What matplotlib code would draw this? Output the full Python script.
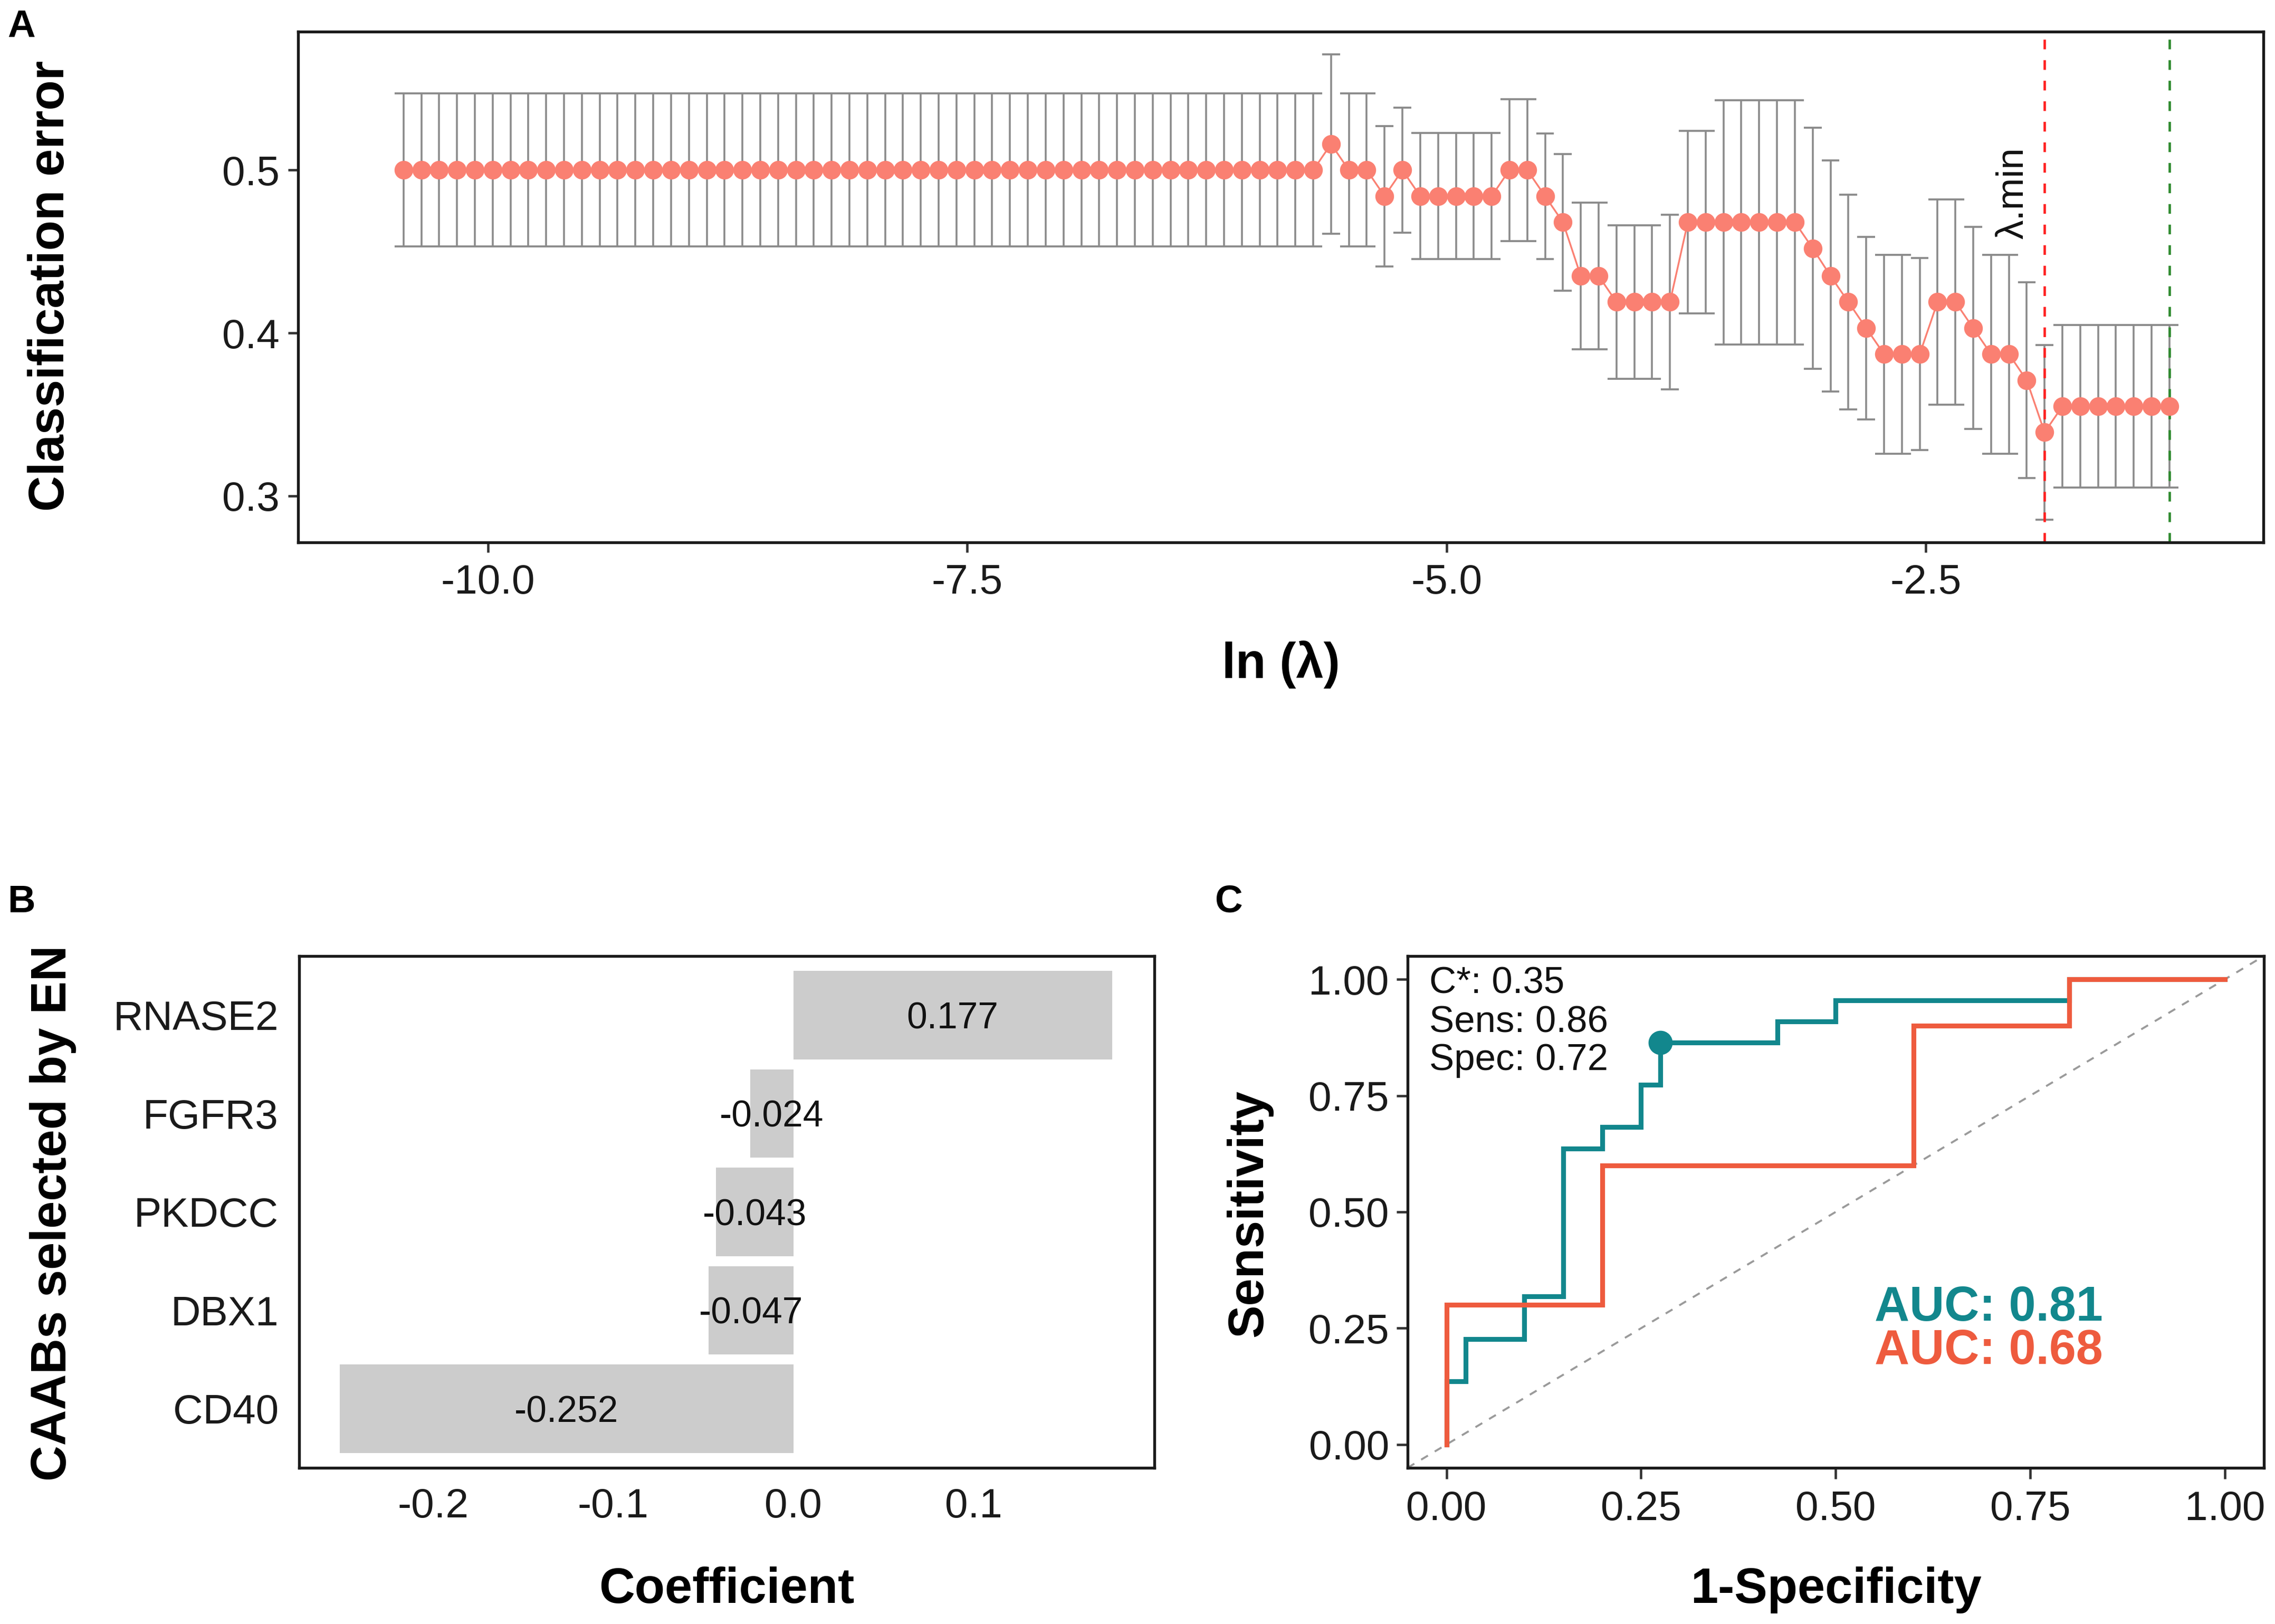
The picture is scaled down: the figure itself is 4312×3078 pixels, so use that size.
import numpy as np
import matplotlib
matplotlib.use("Agg")
import matplotlib.pyplot as plt

plt.rcParams["font.family"] = ["Liberation Sans", "DejaVu Sans"]
plt.rcParams["axes.unicode_minus"] = False

# ---- panel A: cross-validated classification error along the lambda path
n_lambda = 100
loglam_first, loglam_last = -10.44, -1.23
idx_min = 92   # lambda.min
idx_1se = 99   # lambda.1se

cv_error = ([0.5] * 52
            + [0.516, 0.5, 0.5, 0.484, 0.5]
            + [0.484] * 5
            + [0.5, 0.5, 0.484, 0.468, 0.435, 0.435, 0.419, 0.419, 0.419, 0.419]
            + [0.468] * 7
            + [0.452, 0.435, 0.419, 0.403, 0.387, 0.387, 0.387,
               0.419, 0.419, 0.403, 0.387, 0.387, 0.371, 0.339]
            + [0.355] * 7)
cv_sd = ([0.047] * 52
         + [0.055, 0.047, 0.047, 0.043, 0.0385]
         + [0.0387] * 5
         + [0.0435, 0.0435, 0.0386, 0.042, 0.045, 0.045, 0.047, 0.047, 0.047, 0.0535]
         + [0.056, 0.056] + [0.075] * 5
         + [0.074, 0.071, 0.066, 0.056, 0.061, 0.061, 0.059,
            0.063, 0.063, 0.062, 0.061, 0.061, 0.060, 0.0535]
         + [0.050] * 7)

# ---- panel B: coefficients of the selected CAABs
genes = ["CD40", "DBX1", "PKDCC", "FGFR3", "RNASE2"]
coefs = [-0.252, -0.047, -0.043, -0.024, 0.177]

# ---- panel C: ROC curves
fpr_teal = [0, 0, 0.025, 0.025, 0.1, 0.1, 0.15, 0.15, 0.2, 0.2, 0.25, 0.25,
            0.275, 0.275, 0.425, 0.425, 0.5, 0.5, 0.8, 0.8, 1.0]
tpr_teal = [0, 0.136, 0.136, 0.227, 0.227, 0.318, 0.318, 0.636, 0.636, 0.682,
            0.682, 0.773, 0.773, 0.864, 0.864, 0.909, 0.909, 0.955, 0.955, 1.0, 1.0]
fpr_orange = [0, 0, 0.2, 0.2, 0.6, 0.6, 0.8, 0.8, 1.0]
tpr_orange = [0, 0.3, 0.3, 0.6, 0.6, 0.9, 0.9, 1.0, 1.0]
cut_fpr, cut_tpr = 0.275, 0.864
cut_lines = ["C*: 0.35", "Sens: 0.86", "Spec: 0.72"]
auc_teal, auc_orange = 0.81, 0.68

TEAL = "#12878D"
ORANGE = "#EE5B3E"
TICK_FS = 18.8
TITLE_FS = 22.5


def style_axes(ax, ticklen=4.5, pad=4.0):
    for s in ax.spines.values():
        s.set_linewidth(1.3)
        s.set_color("#1a1a1a")
    ax.tick_params(labelsize=TICK_FS, length=ticklen, width=1.1,
                   color="#333333", labelcolor="#1a1a1a", pad=pad)


fig = plt.figure(figsize=(4312 / 300, 3078 / 300), dpi=300)

# ---------------- A
axA = fig.add_axes([0.1310, 0.6660, 0.8639, 0.3145])
loglam = np.linspace(loglam_first, loglam_last, n_lambda)
err = np.array(cv_error)
sd = np.array(cv_sd)
half = (loglam[1] - loglam[0]) / 2
bar_col = "#8a8a8a"
axA.vlines(loglam, err - sd, err + sd, color=bar_col, lw=0.85, zorder=1)
axA.hlines(err + sd, loglam - half, loglam + half, color=bar_col, lw=0.9, zorder=1)
axA.hlines(err - sd, loglam - half, loglam + half, color=bar_col, lw=0.9, zorder=1)
axA.plot(loglam, err, color="salmon", lw=0.8, marker="o", ms=8.5,
         markeredgewidth=0, zorder=3)
axA.axvline(loglam[idx_min], color="#ff2020", lw=1.1, ls=(0, (4, 4.5)), zorder=2)
axA.axvline(loglam[idx_1se], color="#2f8a2f", lw=1.1, ls=(0, (4, 4.5)), zorder=2)
axA.text(loglam[idx_min] - 0.07, 0.486, "λ.min", rotation=90, ha="right",
         va="center", fontsize=17.5, color="#111111")
axA.set_xlim(-10.99, -0.74)
axA.set_ylim(0.2714, 0.585)
axA.set_xticks([-10.0, -7.5, -5.0, -2.5])
axA.set_xticklabels(["-10.0", "-7.5", "-5.0", "-2.5"])
axA.set_yticks([0.3, 0.4, 0.5])
axA.set_yticklabels(["0.3", "0.4", "0.5"])
style_axes(axA)
axA.tick_params(axis="x", pad=5)

# ---------------- B
axB = fig.add_axes([0.1315, 0.0962, 0.3759, 0.3151])
ypos = np.arange(len(genes))
axB.barh(ypos, coefs, height=0.9, color="#cccccc", zorder=1)
for y, c in zip(ypos, coefs):
    axB.text(c / 2, y, f"{c:.3f}", ha="center", va="center_baseline",
             fontsize=16.7, color="#111111", zorder=2)
axB.set_yticks(ypos)
axB.set_yticklabels(genes)
axB.set_ylim(-0.6, 4.6)
axB.set_xlim(-0.2745, 0.2005)
axB.set_xticks([-0.2, -0.1, 0.0, 0.1])
axB.set_xticklabels(["-0.2", "-0.1", "0.0", "0.1"])
style_axes(axB, ticklen=0)
axB.tick_params(axis="y", pad=9.4)
axB.tick_params(axis="x", pad=8.8)

# ---------------- C
axC = fig.add_axes([0.6187, 0.0962, 0.3764, 0.3151])
axC.axline((0, 0), (1, 1), color="#9a9a9a", lw=0.9, ls=(0, (4, 4)), zorder=1)
axC.plot(fpr_teal, tpr_teal, color=TEAL, lw=2.2, zorder=2, solid_joinstyle="miter")
axC.plot(fpr_orange, tpr_orange, color=ORANGE, lw=2.2, zorder=3, solid_joinstyle="miter")
axC.plot([cut_fpr], [cut_tpr], marker="o", ms=10, color=TEAL, zorder=4)
for yy, line in zip([0.99, 0.906, 0.825], cut_lines):
    axC.text(-0.022, yy, line, ha="left", va="center", fontsize=17, color="#111111")
axC.text(0.55, 0.294, f"AUC: {auc_teal:.2f}", ha="left", va="center",
         fontsize=22, fontweight="bold", color=TEAL)
axC.text(0.55, 0.200, f"AUC: {auc_orange:.2f}", ha="left", va="center",
         fontsize=22, fontweight="bold", color=ORANGE)
axC.set_xlim(-0.05, 1.05)
axC.set_ylim(-0.05, 1.05)
ticks = [0, 0.25, 0.5, 0.75, 1.0]
axC.set_xticks(ticks)
axC.set_xticklabels([f"{t:.2f}" for t in ticks])
axC.set_yticks(ticks)
axC.set_yticklabels([f"{t:.2f}" for t in ticks])
style_axes(axC, ticklen=5, pad=3.4)
axC.tick_params(axis="x", pad=5)

# ---------------- titles and panel letters
fig.text(0.0223, 0.8240, "Classification error", rotation=90, ha="center",
         va="center", fontsize=TITLE_FS, fontweight="bold")
fig.text(0.563, 0.5825, "ln (λ)", ha="center", va="baseline",
         fontsize=TITLE_FS, fontweight="bold")
fig.text(0.0232, 0.253, "CAABs selected by EN", rotation=90, ha="center",
         va="center", fontsize=TITLE_FS, fontweight="bold")
fig.text(0.3195, 0.0130, "Coefficient", ha="center", va="baseline",
         fontsize=TITLE_FS, fontweight="bold")
fig.text(0.549, 0.253, "Sensitivity", rotation=90, ha="center",
         va="center", fontsize=TITLE_FS, fontweight="bold")
fig.text(0.807, 0.0130, "1-Specificity", ha="center", va="baseline",
         fontsize=TITLE_FS, fontweight="bold")

for x, y, lab in [(0.0032, 0.9945, "A"), (0.0032, 0.4555, "B"), (0.534, 0.4555, "C")]:
    fig.text(x, y, lab, ha="left", va="top", fontsize=17.5, fontweight="bold")

fig.savefig("out.png", dpi=300, facecolor="white")
